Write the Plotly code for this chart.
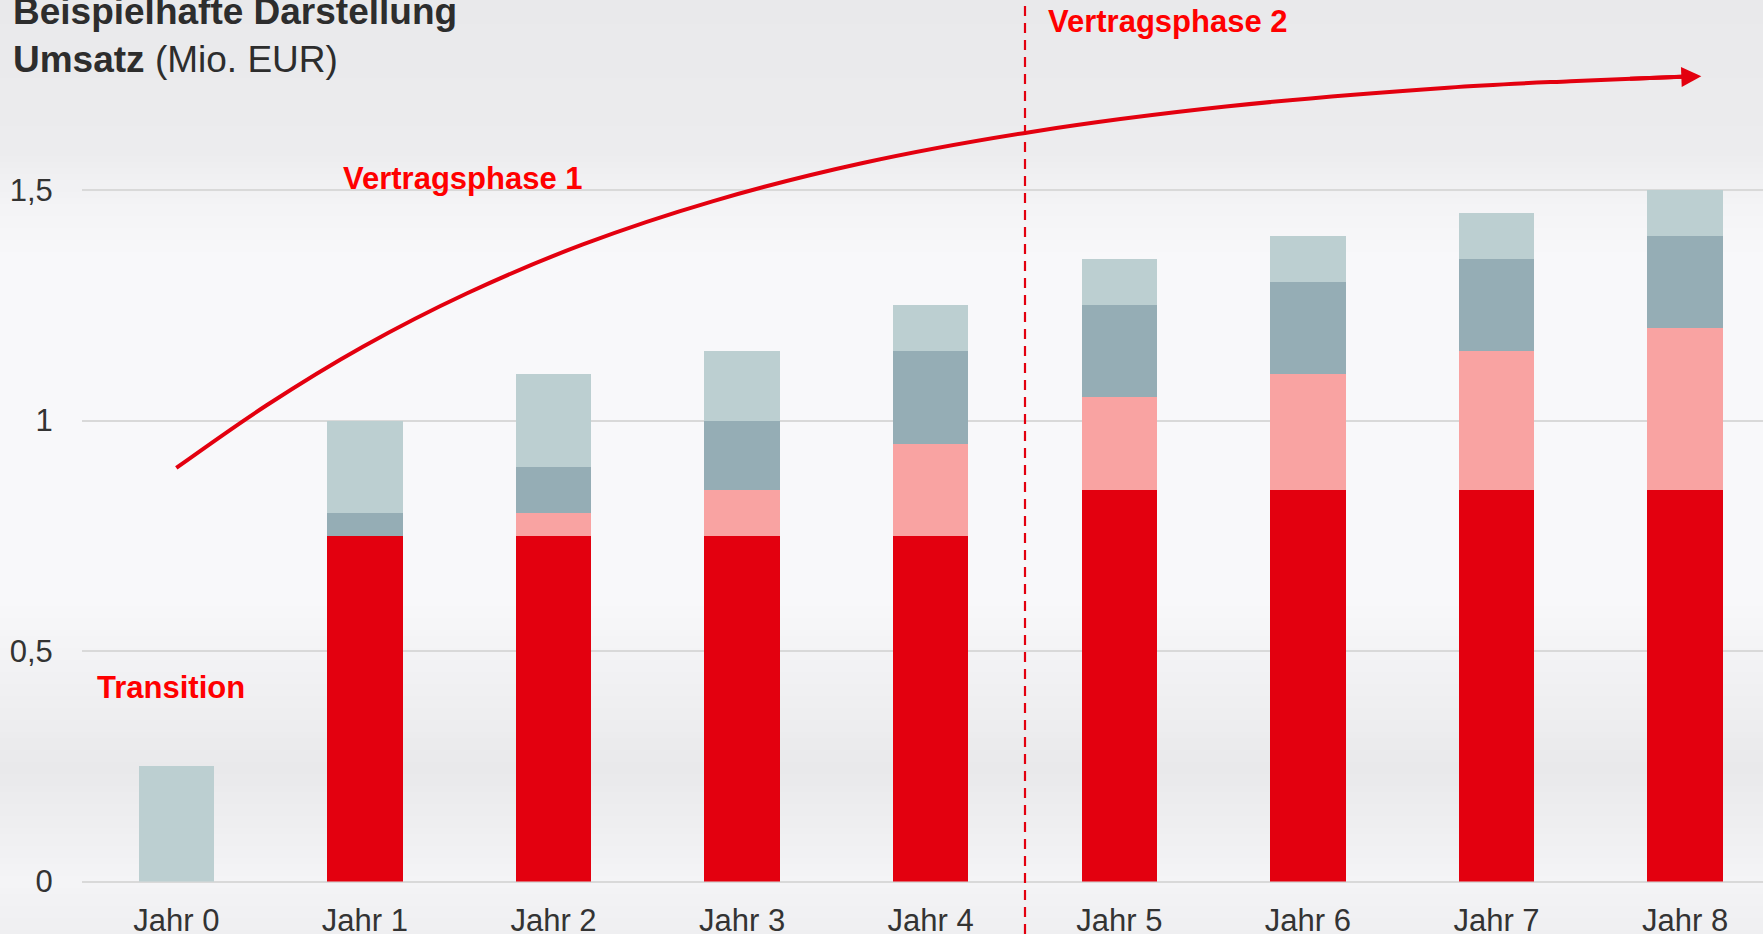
import plotly.graph_objects as go

# Umsatz in Mio. EUR, stacked per year
years = ["Jahr 0", "Jahr 1", "Jahr 2", "Jahr 3", "Jahr 4", "Jahr 5", "Jahr 6", "Jahr 7", "Jahr 8"]
base = [0, 0.75, 0.75, 0.75, 0.75, 0.85, 0.85, 0.85, 0.85]
growth = [0, 0, 0.05, 0.10, 0.20, 0.20, 0.25, 0.30, 0.35]
services = [0, 0.05, 0.10, 0.15, 0.20, 0.20, 0.20, 0.20, 0.20]
transition = [0.25, 0.20, 0.20, 0.15, 0.10, 0.10, 0.10, 0.10, 0.10]

# red trend arrow
arrow_x = [0.0, 0.479, 0.989, 1.542, 2.156, 2.847, 3.634, 4.533, 5.565, 6.742, 7.392, 8.006]
arrow_y = [0.897, 1.033, 1.160, 1.276, 1.382, 1.476, 1.558, 1.626, 1.681, 1.722, 1.736, 1.746]
arrow_tip = (8.086, 1.747)

W, H = 1763, 934
RED = "#E3000F"
FONT = "Liberation Sans, Arial, sans-serif"

xs = list(range(len(years)))
fig = go.Figure()

series = [
    (base, RED),
    (growth, "#F9A3A2"),
    (services, "#95ADB5"),
    (transition, "#BCCFD1"),
]
for vals, col in series:
    fig.add_trace(go.Bar(x=xs, y=vals, width=0.4, marker=dict(color=col, line=dict(width=0)),
                         showlegend=False, hoverinfo="skip"))

fig.add_trace(go.Scatter(x=arrow_x, y=arrow_y, mode="lines",
                         line=dict(color=RED, width=4, shape="spline"),
                         showlegend=False, hoverinfo="skip"))

# soft grey background gradient
stops = [(0, 233), (150, 236), (200, 243), (260, 248), (600, 248), (700, 239),
         (770, 233), (840, 240), (881, 244), (934, 239)]
shapes = []
step = 6
for top in range(0, H, step):
    mid = top + step / 2
    for (y0, c0), (y1, c1) in zip(stops[:-1], stops[1:]):
        if y0 <= mid <= y1:
            c = round(c0 + (c1 - c0) * (mid - y0) / (y1 - y0))
            break
    shapes.append(dict(type="rect", xref="paper", yref="paper", x0=0, x1=1,
                       y0=1 - (top + step + 1) / H, y1=1 - top / H,
                       fillcolor=f"rgb({c},{c},{c + 2})", line=dict(width=0), layer="below"))

shapes.append(dict(type="line", xref="x", yref="paper", x0=4.5, x1=4.5, y0=0, y1=1,
                   line=dict(color=RED, width=2.2, dash="10px,7px")))

annotations = [
    dict(text="<b>Beispielhafte Darstellung</b>", xref="paper", yref="paper",
         x=11 / W, y=1 - 12 / H, xanchor="left", yanchor="middle", showarrow=False,
         font=dict(size=37, color="#2d2d2d")),
    dict(text="<b>Umsatz</b> (Mio. EUR)", xref="paper", yref="paper",
         x=11 / W, y=1 - 59 / H, xanchor="left", yanchor="middle", showarrow=False,
         font=dict(size=37, color="#2d2d2d")),
    dict(text="<b>Transition</b>", x=-0.03, y=0.42, showarrow=False,
         font=dict(size=31, color="#FF0000")),
    dict(text="<b>Vertragsphase 1</b>", x=1.52, y=1.525, showarrow=False,
         font=dict(size=31, color="#FF0000")),
    dict(text="<b>Vertragsphase 2</b>", x=5.26, y=1.865, showarrow=False,
         font=dict(size=31, color="#FF0000")),
    dict(x=arrow_tip[0], y=arrow_tip[1], ax=7.7, ay=1.741,
         axref="x", ayref="y", text="", showarrow=True, arrowhead=2, arrowsize=1,
         arrowwidth=4, arrowcolor=RED, standoff=0),
]

fig.update_layout(
    width=W, height=H,
    margin=dict(l=0, r=0, t=0, b=0),
    template="none",
    paper_bgcolor="#EDEDEF",
    plot_bgcolor="rgba(0,0,0,0)",
    barmode="stack",
    bargap=0,
    separators=",.",
    font=dict(family=FONT, color="#333333"),
    shapes=shapes,
    annotations=annotations,
    xaxis=dict(domain=[82 / W, 1], range=[-0.5, 8.413], tickvals=xs, ticktext=years,
               showgrid=False, zeroline=False, showline=False,
               ticks="outside", ticklen=11, tickcolor="rgba(0,0,0,0)",
               tickfont=dict(size=31, color="#333333")),
    yaxis=dict(domain=[52.5 / H, 1], range=[0, 881.5 / 461], dtick=0.5, tick0=0,
               showgrid=True, gridcolor="#D9D9D9", gridwidth=1.5,
               zeroline=True, zerolinecolor="#D9D9D9", zerolinewidth=1.5, showline=False,
               ticks="outside", ticklen=22, tickcolor="rgba(0,0,0,0)",
               tickfont=dict(size=31, color="#333333")),
)

fig.write_html("out.html", config={"displayModeBar": False},
               post_script="document.body.style.margin='0px';")
